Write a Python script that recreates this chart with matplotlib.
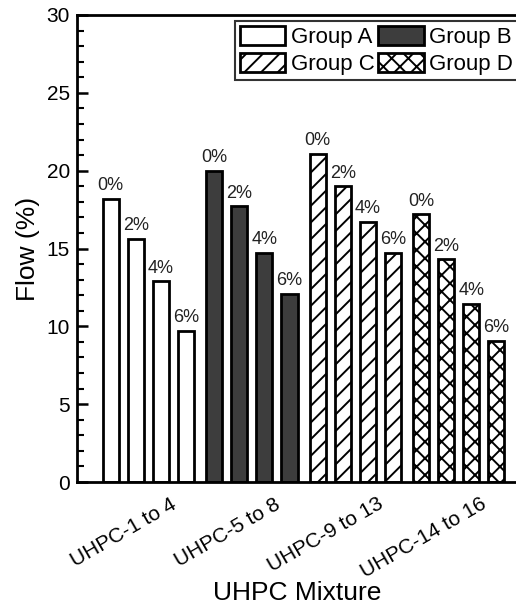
import matplotlib
matplotlib.use("Agg")
import matplotlib.pyplot as plt
from matplotlib.ticker import MultipleLocator
import numpy as np

plt.rcParams['font.family'] = ['Liberation Sans', 'DejaVu Sans']
plt.rcParams['hatch.linewidth'] = 1.4

groups = ["Group A", "Group B", "Group C", "Group D"]
categories = ["UHPC-1 to 4", "UHPC-5 to 8", "UHPC-9 to 13", "UHPC-14 to 16"]
pct_labels = ["0%", "2%", "4%", "6%"]
group_a = [18.2, 15.6, 12.9, 9.7]
group_b = [20.0, 17.7, 14.7, 12.1]
group_c = [21.1, 19.0, 16.7, 14.7]
group_d = [17.2, 14.3, 11.45, 9.05]
values = [group_a, group_b, group_c, group_d]

facecolors = ["white", "#3d3d3d", "white", "white"]
hatches = [None, None, "//", "xx"]

fig = plt.figure(figsize=(5.16, 6.04), dpi=100)
W, H = 516, 604
ax = fig.add_axes([77 / W, (H - 482) / H, (518 - 77) / W, (482 - 15) / H])

group_step = 4.12
bar_w = 0.64
handles = []
for g, vals in enumerate(values):
    xs = g * group_step + np.arange(len(vals))
    bars = ax.bar(xs, vals, width=bar_w, facecolor=facecolors[g], edgecolor="black",
                  linewidth=2, hatch=hatches[g], label=groups[g], zorder=2)
    handles.append(bars)
    for x, v, lab in zip(xs, vals, pct_labels):
        ax.text(x, v + 0.3, lab, ha="center", va="bottom", fontsize=13, color="#222222")

ax.set_ylim(0, 30)
ax.set_xlim(-1.34, 16.22)
ax.yaxis.set_major_locator(MultipleLocator(5))
ax.yaxis.set_minor_locator(MultipleLocator(1))
ax.tick_params(axis="y", which="major", direction="in", length=8, width=1.8, labelsize=15, pad=5)
ax.tick_params(axis="y", which="minor", direction="in", length=5, width=1.5)

centers = [g * group_step + 1.5 + 1.25 for g in range(4)]
ax.set_xticks(centers)
ax.set_xticklabels(categories, rotation=30, ha="right", fontsize=15)
ax.tick_params(axis="x", which="both", length=0, pad=9)

for side in ["left", "bottom", "top", "right"]:
    ax.spines[side].set_linewidth(2)

ax.set_ylabel("Flow (%)", fontsize=19)
ax.yaxis.set_label_coords(-0.085, 0.5)
ax.set_xlabel("UHPC Mixture", fontsize=19)
ax.xaxis.set_label_coords(0.5, -0.212)

# legend order so rows read: A, B / C, D (matplotlib fills column-wise)
order = [0, 2, 1, 3]
leg = ax.legend(handles=[handles[i] for i in order], labels=[groups[i] for i in order],
                ncol=2, loc="upper right",
                bbox_to_anchor=(1.0, 0.987), fontsize=16, frameon=True, fancybox=False,
                handlelength=2.05, handleheight=0.95, handletextpad=0.25, columnspacing=0.15,
                labelspacing=0.22, borderpad=0.22, borderaxespad=0.0)
leg.get_frame().set_edgecolor("black")
leg.get_frame().set_linewidth(1.5)

fig.savefig("out.png", dpi=100)
